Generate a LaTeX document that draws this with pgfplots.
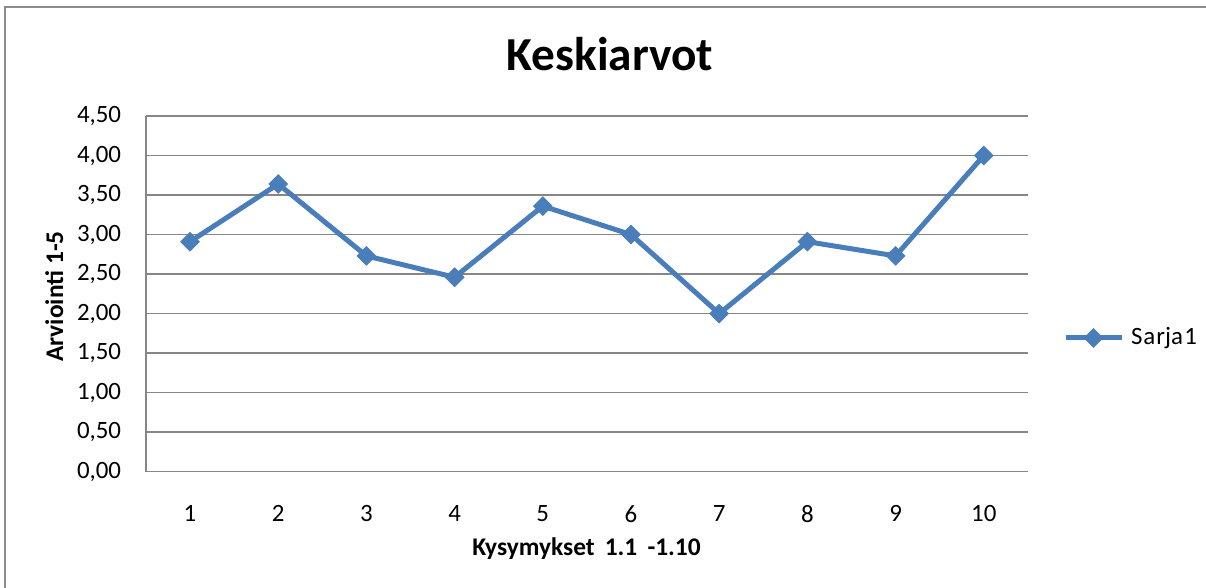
\documentclass[border=0pt]{standalone}
\usepackage{fontspec}
\setmainfont{Carlito}
\usepackage{pgfplots}
\pgfplotsset{compat=1.18}
\definecolor{serieblue}{HTML}{4A7EBB}
\definecolor{gridgray}{HTML}{868686}
\definecolor{bordergray}{HTML}{8C8C8C}
\begin{document}
\begin{tikzpicture}
\useasboundingbox (0,0) rectangle (482.4bp,235.2bp);
\begin{scope}
\clip (0,0) rectangle (482.4bp,235.2bp);
\draw[bordergray, line width=0.8bp] (1.8bp,-5bp) rectangle (490bp,232.4bp);
\end{scope}
\begin{axis}[
  at={(58.36bp,46.52bp)}, anchor=south west,
  scale only axis, width=352.8bp, height=142.28bp,
  xmin=0.5, xmax=10.5, ymin=0, ymax=4.5,
  xtick={1,2,3,4,5,6,7,8,9,10},
  ytick={0,0.5,1,1.5,2,2.5,3,3.5,4,4.5},
  axis x line=bottom, axis y line=left,
  axis line style={draw=gridgray, line width=0.6bp, -},
  ymajorgrids, grid style={gridgray, line width=0.6bp},
  major tick length=0pt,
  tick label style={font=\fontsize{10}{12}\selectfont, text=black},
  /pgf/number format/assume math mode=true,
  yticklabel style={/pgf/number format/.cd, fixed, fixed zerofill, precision=2, use comma, /tikz/.cd, xshift=-6.4bp},
  xticklabel style={yshift=-10bp},
  legend style={draw=none, fill=none, inner sep=0pt, outer sep=0pt, at={(1.0398,0.3759)}, anchor=west,
    font=\fontsize{10}{12}\selectfont, nodes={inner sep=0pt}, /tikz/every odd column/.append style={column sep=2.8bp}},
  legend cell align=left,
  legend image code/.code={\draw[mark repeat=2,mark phase=2,#1] plot coordinates {(0bp,0bp) (11.2bp,0bp) (22.4bp,0bp)};},
  clip=false,
]
\addplot[serieblue, line width=2bp, mark=square*, mark size=2.6bp,
  mark options={solid, line width=0.4bp, rotate=45, fill=serieblue}]
  coordinates {(1,2.91) (2,3.64) (3,2.73) (4,2.46) (5,3.36) (6,3.00) (7,2.00) (8,2.91) (9,2.73) (10,4.00)};
\addlegendentry{S\kern0.4bp a\kern0.4bp rja\kern0.6bp 1}
\end{axis}
\node[anchor=base, font=\fontsize{19}{22}\selectfont\bfseries] at (244bp,206.9bp) {Keskiarvot};
\node[anchor=base, rotate=90, font=\fontsize{10.2}{12}\selectfont\bfseries] at (25.2bp,116.6bp) {Arviointi 1-5};
\node[anchor=base, font=\fontsize{10.2}{12}\selectfont\bfseries] at (234.6bp,13.2bp) {Kysymykset\hspace{0.4em}1.1\hspace{0.4em}-1.10};
\end{tikzpicture}
\end{document}
